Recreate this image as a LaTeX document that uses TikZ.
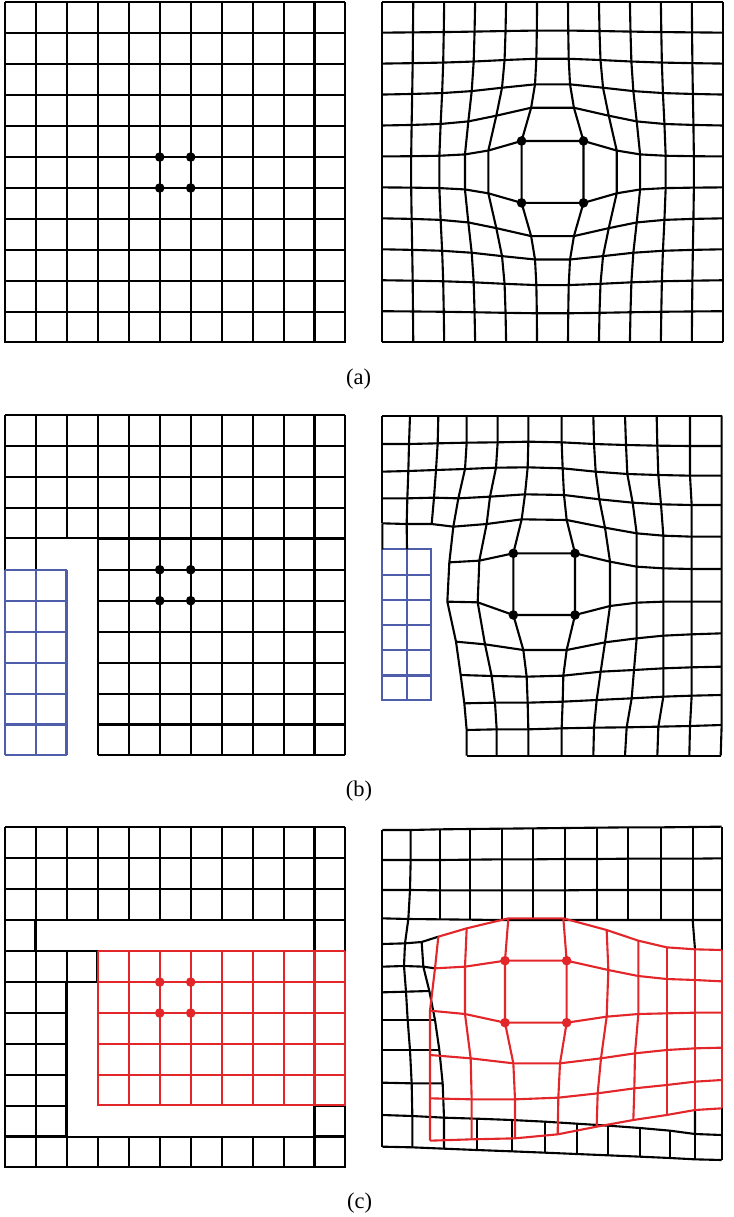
\documentclass[tikz,border=0pt]{standalone}
\usepackage{fontspec}
\setmainfont{Liberation Serif}
\definecolor{meshblue}{RGB}{78,94,170}
\definecolor{meshred}{RGB}{226,38,42}
\tikzset{
  mesh/.style={line width=1.5pt,line join=round},
  corner/.style={circle,fill,inner sep=0pt,minimum size=2.4mm},
  tag/.style={font=\fontsize{16}{19}\selectfont},
}
% one row of a deformed mesh: prefix, row, first column, x/y list
\newcommand\meshrow[4]{%
  \foreach \x/\y [count=\k from #3] in {#4} {\coordinate (#1-\k-#2) at (\x,\y);}}

\begin{document}
\begin{tikzpicture}[x=0.25mm,y=0.25mm,yscale=-1]
\useasboundingbox (0,0) rectangle (733,1217);

%(a) regular mesh
\begin{scope}[shift={(5,2.3)},scale=30.95]
\draw[mesh,step=1] (0,0) grid (11,11);
\foreach \p [count=\n] in {{5,5},{6,5},{5,6},{6,6}} \node[corner] (pa-\n) at (\p) {};
\end{scope}

%(a) deformed mesh
\begin{scope}[shift={(382.3,1.7)},scale=30.95]
\foreach \i in {0,...,11} \foreach \j in {0,...,11} {
  \pgfmathsetmacro\k{(\i>0)*(\i<11)*(\j>0)*(\j<11)*exp(-1.1*(veclen(\i-5.5,\j-5.5)-0.707))}
  \coordinate (a-\i-\j) at ({\i+(\i-5.5)*\k},{\j+(\j-5.5)*\k});
}
\end{scope}
\foreach \j in {0,...,11} \draw[mesh] (a-0-\j) \foreach \i in {1,...,11} {-- (a-\i-\j)};
\foreach \i in {0,...,11} \draw[mesh] (a-\i-0) \foreach \j in {1,...,11} {-- (a-\i-\j)};
\foreach \p [count=\n] in {5-5,6-5,5-6,6-6} \node[corner] (qa-\n) at (a-\p) {};

%(b) regular mesh with the blue patch
\begin{scope}[shift={(5,415)},scale=30.95]
\draw[mesh,step=1] (0,0) grid (11,4) (3,4) grid (11,11);
\draw[mesh] (0,4) -- (0,5) (1,4) -- (1,5);
\draw[mesh,meshblue,step=1] (0,5) grid (2,11);
\foreach \p [count=\n] in {{5,5},{6,5},{5,6},{6,6}} \node[corner] (pb-\n) at (\p) {};
\end{scope}

%(b) deformed mesh
\begin{scope}[shift={(370,405)},scale=1/3]
\meshrow{b}{0}{0}{37/32,120/32,205/32,290/32,383/32,475/32,575/32,670/32,765/32,860/32,960/32,1055/32}
\meshrow{b}{1}{0}{37/117,117/117,203/115,290/113,383/112,475/110,575/112,672/117,768/120,862/122,960/123,1055/123}
\meshrow{b}{2}{0}{37/200,115/198,198/195,285/192,378/188,473/187,578/190,677/200,772/207,865/210,960/212,1055/212}
\meshrow{b}{3}{0}{37/280,112/280,192/278,265/280,360/275,465/268,582/270,688/283,788/293,873/298,965/300,1055/300}
\meshrow{b}{4}{0}{37/355,110/357,185/357,250/365,350/357,455/343,590/345,705/368,800/385,880/392,965/395,1055/395}
\meshrow{b}{5}{3}{238/472,328/467,430/445,615/445,720/470,800/485,880/490,965/492,1055/492}
\meshrow{b}{6}{3}{232/590,323/592,430/630,615/630,720/603,800/593,880/590,965/590,1055/590}
\meshrow{b}{7}{3}{258/710,345/718,460/735,590/735,705/712,800/700,880/692,965/688,1055/685}
\meshrow{b}{8}{3}{272/810,365/813,470/815,580/812,692/800,792/795,880/790,965/787,1055/785}
\meshrow{b}{9}{3}{283/895,375/893,473/893,578/890,680/885,785/880,880/875,965/872,1055/870}
\meshrow{b}{10}{3}{290/975,380/973,475/973,575/970,672/968,770/967,865/965,960/963,1055/960}
\meshrow{b}{11}{3}{290/1052,380/1052,475/1052,575/1052,670/1052,765/1052,862/1052,958/1052,1052/1052}
\begin{scope}[shift={(37,433)},xscale=74,yscale=75.67]
\draw[mesh,meshblue,step=1] (0,0) grid (2,6);
\coordinate (bl-0) at (0,0);
\coordinate (bl-1) at (1,0);
\end{scope}
\end{scope}
\foreach \j in {0,...,4} \draw[mesh] (b-0-\j) \foreach \i in {1,...,11} {-- (b-\i-\j)};
\foreach \j in {5,...,11} \draw[mesh] (b-3-\j) \foreach \i in {4,...,11} {-- (b-\i-\j)};
\foreach \i in {0,1,2} \draw[mesh] (b-\i-0) \foreach \j in {1,...,4} {-- (b-\i-\j)};
\foreach \i in {3,...,11} \draw[mesh] (b-\i-0) \foreach \j in {1,...,11} {-- (b-\i-\j)};
\draw[mesh] (b-0-4) -- (bl-0) (b-1-4) -- (bl-1);
\foreach \p [count=\n] in {5-5,6-5,5-6,6-6} \node[corner] (qb-\n) at (b-\p) {};

%(c) regular mesh with the red patch
\begin{scope}[shift={(5,827.3)},scale=30.95]
\draw[mesh,step=1] (0,0) grid (11,3) (0,3) grid (1,4) (0,4) grid (3,5) (0,5) grid (2,10)
  (0,10) grid (11,11) (10,3) grid (11,4) (10,9) grid (11,10);
\draw[mesh,meshred,step=1] (3,4) grid (11,9);
\foreach \p [count=\n] in {{5,5},{6,5},{5,6},{6,6}} \node[corner,meshred] (pc-\n) at (\p) {};
\end{scope}

%(c) deformed mesh
\begin{scope}[shift={(370,820)},scale=1/3]
\meshrow{c}{0}{0}{37/30,122/30,210/28,300/27,395/26,490/25,585/24,680/23,775/22,873/22,968/21,1055/20}
\meshrow{c}{1}{0}{37/120,122/120,210/120,300/119,395/118,490/118,585/117,680/117,775/116,873/116,968/116,1055/115}
\meshrow{c}{2}{0}{37/210,120/210,210/211,300/211,395/211,490/211,585/211,680/210,775/210,873/210,968/210,1055/210}
\meshrow{c}{3}{0}{37/295,115/297,210/298,300/299,395/300,490/300,585/300,680/300,775/300,873/300,968/300,1055/300}
\meshrow{c}{4}{0}{37/372,105/370,155/366}
\meshrow{c}{5}{0}{37/440,102/438,160/440}
\meshrow{c}{6}{0}{37/517,108/515,178/513}
\meshrow{c}{7}{0}{37/600,113/600,195/600}
\meshrow{c}{8}{0}{37/690,120/690,208/690}
\meshrow{c}{9}{0}{37/788,125/790,218/790}
\meshrow{c}{10}{0}{37/885,127/888,222/893,320/896,425/900,525/905,620/911,715/917,810/924,900/932,975/942,1055/945}
\meshrow{c}{11}{0}{37/980,127/982,222/986,320/990,425/994,525/998,620/1002,715/1006,810/1010,900/1014,975/1018,1055/1020}
\meshrow{r}{4}{3}{205/350,290/325,415/295,580/295,710/330,805/362,890/382,975/388,1055/390}
\meshrow{r}{5}{3}{195/445,285/440,405/422,590/422,715/450,805/468,890/477,975/480,1055/484}
\meshrow{r}{6}{3}{180/572,285/582,405/608,590/608,710/590,805/582,890/580,975/578,1055/578}
\meshrow{r}{7}{3}{180/705,302/715,430/730,570/730,693/715,795/700,890/690,975/685,1055/683}
\meshrow{r}{8}{3}{180/835,305/838,435/838,565/833,683/820,793/805,890/795,975/785,1055/780}
\meshrow{r}{9}{3}{180/962,305/958,435/955,563/943,680/920,790/900,890/885,975/870,1055/865}
\end{scope}
\foreach \j in {0,1,2,3,10,11} \draw[mesh] (c-0-\j) \foreach \i in {1,...,11} {-- (c-\i-\j)};
\foreach \j in {4,5} \draw[mesh] (c-0-\j) -- (c-1-\j) -- (c-2-\j) -- (r-3-\j);
\foreach \j in {6,...,9} \draw[mesh] (c-0-\j) -- (c-1-\j) -- (c-2-\j);
\foreach \i in {0,1} \draw[mesh] (c-\i-0) \foreach \j in {1,...,11} {-- (c-\i-\j)};
\draw[mesh] (c-2-0) \foreach \j in {1,2,3} {-- (c-2-\j)};
\draw[mesh] (c-2-4) \foreach \j in {5,...,11} {-- (c-2-\j)};
\foreach \i in {3,...,11} \draw[mesh] (c-\i-0) -- (c-\i-1) -- (c-\i-2) -- (c-\i-3) (c-\i-10) -- (c-\i-11);
\foreach \i in {10,11} \draw[mesh] (c-\i-3) -- (r-\i-4) (r-\i-9) -- (c-\i-10);
\foreach \j in {4,...,9} \draw[mesh,meshred] (r-3-\j) \foreach \i in {4,...,11} {-- (r-\i-\j)};
\foreach \i in {3,...,11} \draw[mesh,meshred] (r-\i-4) \foreach \j in {5,...,9} {-- (r-\i-\j)};
\foreach \p [count=\n] in {5-5,6-5,5-6,6-6} \node[corner,meshred] (qc-\n) at (r-\p) {};

%labels
\node[tag] (tag-a) at (358.5,379) {(a)};
\node[tag] (tag-b) at (359,791) {(b)};
\node[tag] (tag-c) at (359.5,1203) {(c)};
\end{tikzpicture}
\end{document}
